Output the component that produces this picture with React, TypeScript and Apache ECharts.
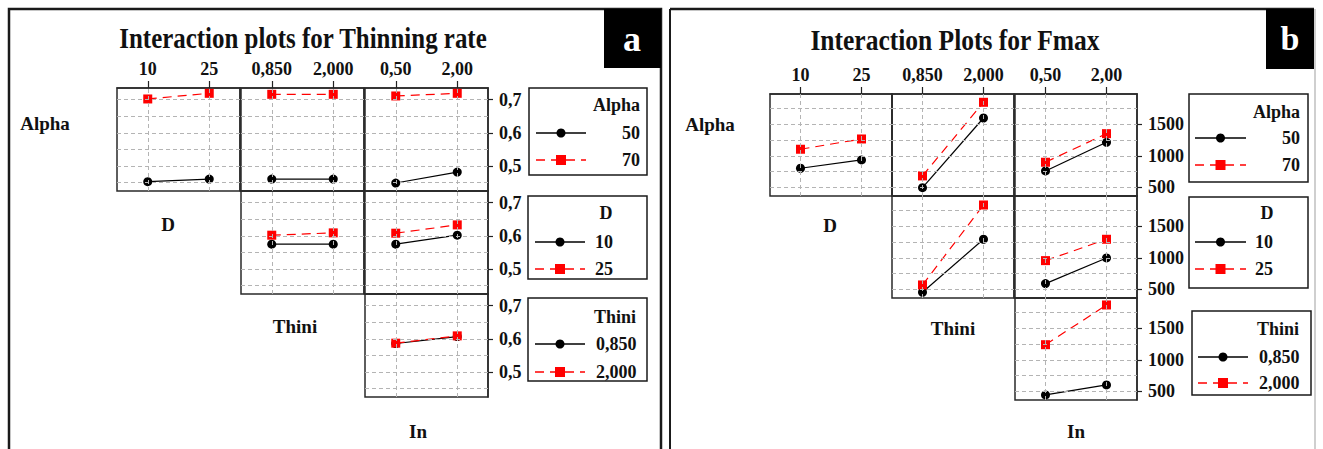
import React, { useEffect, useRef } from 'react';
import * as echarts from 'echarts';

// ---------- factor levels ----------
const alphaLevels = ['50', '70'];
const dLevels = ['10', '25'];
const thiniLevels = ['0,850', '2,000'];
const inLevels = ['0,50', '2,00'];

// ---------- Panel a: Thinning rate ----------
const thinAlpha50_D = [0.453, 0.461];
const thinAlpha70_D = [0.702, 0.719];
const thinAlpha50_Thini = [0.461, 0.461];
const thinAlpha70_Thini = [0.716, 0.716];
const thinAlpha50_In = [0.449, 0.482];
const thinAlpha70_In = [0.711, 0.719];
const thinD10_Thini = [0.575, 0.575];
const thinD25_Thini = [0.602, 0.609];
const thinD10_In = [0.575, 0.602];
const thinD25_In = [0.608, 0.633];
const thinThini085_In = [0.586, 0.607];
const thinThini2000_In = [0.587, 0.609];
const thinTickVals = [0.5, 0.6, 0.7];
const thinGridVals = [0.45, 0.5, 0.55, 0.6, 0.65, 0.7];

// ---------- Panel b: Fmax ----------
const fmaxAlpha50_D = [803, 934];
const fmaxAlpha70_D = [1103, 1265];
const fmaxAlpha50_Thini = [497, 1596];
const fmaxAlpha70_Thini = [682, 1844];
const fmaxAlpha50_In = [760, 1213];
const fmaxAlpha70_In = [898, 1349];
const fmaxD10_Thini = [456, 1292];
const fmaxD25_Thini = [571, 1833];
const fmaxD10_In = [592, 997];
const fmaxD25_In = [955, 1292];
const fmaxThini085_In = [445, 603];
const fmaxThini2000_In = [1238, 1865];
const fmaxTickVals = [500, 1000, 1500];
const fmaxGridVals = [500, 750, 1000, 1250, 1500, 1750];

const FONT = 'Liberation Serif';
const TXT = '#111';
const RED = '#ff0000';

type Cell = { r: number; c: number; x: string[]; black: number[]; red: number[] };

const thinCells: Cell[] = [
  { r: 0, c: 0, x: dLevels, black: thinAlpha50_D, red: thinAlpha70_D },
  { r: 0, c: 1, x: thiniLevels, black: thinAlpha50_Thini, red: thinAlpha70_Thini },
  { r: 0, c: 2, x: inLevels, black: thinAlpha50_In, red: thinAlpha70_In },
  { r: 1, c: 1, x: thiniLevels, black: thinD10_Thini, red: thinD25_Thini },
  { r: 1, c: 2, x: inLevels, black: thinD10_In, red: thinD25_In },
  { r: 2, c: 2, x: inLevels, black: thinThini085_In, red: thinThini2000_In },
];
const fmaxCells: Cell[] = [
  { r: 0, c: 0, x: dLevels, black: fmaxAlpha50_D, red: fmaxAlpha70_D },
  { r: 0, c: 1, x: thiniLevels, black: fmaxAlpha50_Thini, red: fmaxAlpha70_Thini },
  { r: 0, c: 2, x: inLevels, black: fmaxAlpha50_In, red: fmaxAlpha70_In },
  { r: 1, c: 1, x: thiniLevels, black: fmaxD10_Thini, red: fmaxD25_Thini },
  { r: 1, c: 2, x: inLevels, black: fmaxD10_In, red: fmaxD25_In },
  { r: 2, c: 2, x: inLevels, black: fmaxThini085_In, red: fmaxThini2000_In },
];

type Panel = {
  cells: Cell[];
  lefts: number[];
  w: number;
  tops: number[];
  h: number;
  min: number;
  max: number;
  ticks: number[];
  grid: number[];
  fmt: (v: number) => string;
};

const panels: Panel[] = [
  {
    cells: thinCells, lefts: [117, 241, 365], w: 123, tops: [88, 191, 294], h: 103,
    min: 0.425, max: 0.735, ticks: thinTickVals, grid: thinGridVals,
    fmt: (v) => v.toFixed(1).replace('.', ','),
  },
  {
    cells: fmaxCells, lefts: [770, 892, 1015], w: 122, tops: [94, 196, 298], h: 102,
    min: 365, max: 1975, ticks: fmaxTickVals, grid: fmaxGridVals,
    fmt: (v) => String(Math.round(v)),
  },
];

function buildOption() {
  const grids: any[] = [];
  const xAxes: any[] = [];
  const yAxes: any[] = [];
  const series: any[] = [];
  let idx = 0;
  panels.forEach((p) => {
    p.cells.forEach((cell) => {
      grids.push({
        left: p.lefts[cell.c], top: p.tops[cell.r], width: p.w, height: p.h,
        show: true, borderColor: '#2a2a2a', borderWidth: 1.5, backgroundColor: 'transparent',
        containLabel: false,
      });
      const topRow = cell.r === 0;
      const rightCol = cell.c === 2;
      xAxes.push({
        type: 'category', gridIndex: idx, data: cell.x, position: 'top', boundaryGap: true,
        axisLine: { show: true, lineStyle: { color: '#2a2a2a', width: 1.5 } },
        axisTick: { show: topRow, alignWithLabel: true, length: 7, lineStyle: { color: '#222', width: 1.2 } },
        axisLabel: { show: topRow, fontFamily: FONT, fontWeight: 'bold', fontSize: 18, color: TXT, margin: 10 },
        splitLine: { show: false },
      });
      yAxes.push({
        type: 'value', gridIndex: idx, min: p.min, max: p.max, position: 'right',
        axisLine: { show: true, lineStyle: { color: '#2a2a2a', width: 1.5 } },
        axisTick: { show: rightCol, length: 5, customValues: p.ticks, lineStyle: { color: '#222', width: 1.2 } },
        axisLabel: {
          show: rightCol, customValues: p.ticks, fontFamily: FONT, fontWeight: 'bold', fontSize: 18,
          color: TXT, margin: 11, formatter: (v: number) => p.fmt(v),
        },
        splitLine: { show: false },
      });
      series.push({
        type: 'line', xAxisIndex: idx, yAxisIndex: idx, data: cell.black, showSymbol: false,
        lineStyle: { opacity: 0 }, z: 1, silent: true,
        markLine: {
          silent: true, symbol: ['none', 'none'], label: { show: false },
          lineStyle: { color: '#b4b4b4', type: [4, 3], width: 1 },
          data: [
            ...cell.x.map((l) => ({ xAxis: l })),
            ...p.grid.map((v) => ({ yAxis: v })),
          ],
        },
      });
      series.push({
        type: 'line', xAxisIndex: idx, yAxisIndex: idx, data: cell.black, z: 3,
        symbol: 'circle', symbolSize: 9, itemStyle: { color: '#000' },
        lineStyle: { color: '#000', width: 1.2 },
      });
      series.push({
        type: 'line', xAxisIndex: idx, yAxisIndex: idx, data: cell.red, z: 4,
        symbol: 'rect', symbolSize: 9, itemStyle: { color: RED },
        lineStyle: { color: RED, width: 1.2, type: [9, 6] },
      });
      idx++;
    });
  });

  const g: any[] = [];
  const txt = (text: string, x: number, y: number, size: number, align = 'center', extra: any = {}) => ({
    type: 'text', x, y, ...extra,
    style: { text, fontFamily: FONT, fontWeight: 'bold', fontSize: size, fill: extra.fill || TXT, align, verticalAlign: 'middle' },
  });

  // panel borders
  g.push({ type: 'rect', shape: { x: 9, y: 9, width: 652, height: 470 }, style: { fill: 'none', stroke: '#1a1a1a', lineWidth: 2.5 } });
  g.push({ type: 'line', shape: { x1: 670, y1: 9, x2: 1314, y2: 9 }, style: { stroke: '#1a1a1a', lineWidth: 2.5 } });
  g.push({ type: 'line', shape: { x1: 670, y1: 9, x2: 670, y2: 449 }, style: { stroke: '#1a1a1a', lineWidth: 2 } });
  g.push({ type: 'line', shape: { x1: 1315, y1: 9, x2: 1315, y2: 449 }, style: { stroke: '#cfcfcf', lineWidth: 2 } });

  // panel tags
  g.push({ type: 'rect', shape: { x: 604, y: 9, width: 57, height: 59 }, style: { fill: '#000' } });
  g.push(txt('a', 632, 39, 36, 'center', { fill: '#fff' }));
  g.push({ type: 'rect', shape: { x: 1266, y: 9, width: 48, height: 60 }, style: { fill: '#000' } });
  g.push(txt('b', 1290, 38, 34, 'center', { fill: '#fff' }));

  // titles
  g.push(txt('Interaction plots for Thinning rate', 303, 38, 29, 'center', { scaleX: 0.86 }));
  g.push(txt('Interaction Plots for Fmax', 955, 40, 29, 'center', { scaleX: 0.88 }));

  // factor labels
  const labelPos = [
    ['Alpha', 45, 123], ['D', 168, 224], ['Thini', 295, 326], ['In', 418, 431],
    ['Alpha', 710, 124], ['D', 830, 225], ['Thini', 953, 328], ['In', 1076, 431],
  ];
  labelPos.forEach(([t, x, y]) => g.push(txt(t as string, x as number, y as number, 19)));

  // legends
  type LegItem = { y: number; lx1: number; lx2: number; tx: number; align: string };
  const legend = (box: number[], title: string, tx: number, ty: number, talign: string, levels: string[], items: LegItem[]) => {
    g.push({ type: 'rect', shape: { x: box[0], y: box[1], width: box[2], height: box[3] }, style: { fill: '#fff', stroke: '#1a1a1a', lineWidth: 1.5 } });
    g.push(txt(title, tx, ty, 18, talign));
    items.forEach((it, i) => {
      const red = i === 1;
      const col = red ? RED : '#000';
      const mid = (it.lx1 + it.lx2) / 2;
      g.push({ type: 'line', shape: { x1: it.lx1, y1: it.y, x2: it.lx2, y2: it.y }, style: { stroke: col, lineWidth: 1.3, lineDash: red ? [9, 6] : null } });
      if (red) g.push({ type: 'rect', shape: { x: mid - 5, y: it.y - 5, width: 10, height: 10 }, style: { fill: RED } });
      else g.push({ type: 'circle', shape: { cx: mid, cy: it.y, r: 4.5 }, style: { fill: '#000' } });
      g.push(txt(levels[i], it.tx, it.y, 18, it.align));
    });
  };
  legend([529, 88, 118, 87], 'Alpha', 640, 105, 'right', alphaLevels, [
    { y: 133, lx1: 536, lx2: 586, tx: 640, align: 'right' },
    { y: 160, lx1: 536, lx2: 586, tx: 640, align: 'right' },
  ]);
  legend([528, 196, 119, 83], 'D', 606, 213, 'center', dLevels, [
    { y: 242, lx1: 535, lx2: 585, tx: 595, align: 'left' },
    { y: 269, lx1: 535, lx2: 585, tx: 595, align: 'left' },
  ]);
  legend([528, 298, 119, 83], 'Thini', 636, 317, 'right', thiniLevels, [
    { y: 344, lx1: 535, lx2: 585, tx: 596, align: 'left' },
    { y: 372, lx1: 535, lx2: 585, tx: 596, align: 'left' },
  ]);
  legend([1189, 94, 119, 88], 'Alpha', 1300, 112, 'right', alphaLevels, [
    { y: 138, lx1: 1195, lx2: 1246, tx: 1300, align: 'right' },
    { y: 165, lx1: 1195, lx2: 1246, tx: 1300, align: 'right' },
  ]);
  legend([1189, 197, 119, 91], 'D', 1267, 213, 'center', dLevels, [
    { y: 242, lx1: 1195, lx2: 1246, tx: 1255, align: 'left' },
    { y: 269, lx1: 1195, lx2: 1246, tx: 1255, align: 'left' },
  ]);
  legend([1192, 311, 119, 84], 'Thini', 1299, 329, 'right', thiniLevels, [
    { y: 357, lx1: 1198, lx2: 1248, tx: 1259, align: 'left' },
    { y: 383, lx1: 1198, lx2: 1248, tx: 1259, align: 'left' },
  ]);

  return {
    animation: false,
    backgroundColor: '#fff',
    textStyle: { fontFamily: FONT },
    grid: grids,
    xAxis: xAxes,
    yAxis: yAxes,
    series,
    graphic: { elements: g },
  };
}

export default function App() {
  const ref = useRef<HTMLDivElement>(null);
  useEffect(() => {
    if (!ref.current) return;
    const chart = echarts.init(ref.current, undefined, { renderer: 'svg' });
    chart.setOption(buildOption() as any);
    return () => chart.dispose();
  }, []);
  return (
    <div
      ref={ref}
      style={{ position: 'fixed', left: 0, top: 0, width: 1323, height: 449, background: '#fff' }}
    />
  );
}
